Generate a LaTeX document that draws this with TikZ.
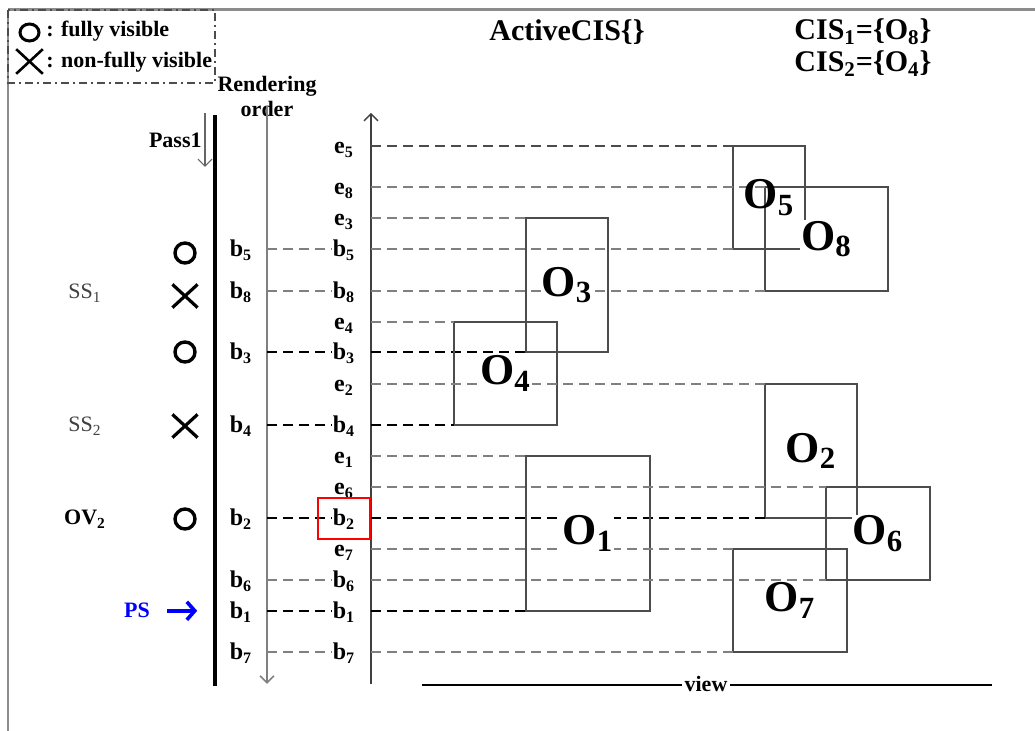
\documentclass[tikz,border=0pt]{standalone}
\usepackage{fontspec}
\setmainfont{Liberation Serif}
\usetikzlibrary{arrows.meta, calc, shapes.misc, shapes.geometric}
\newcommand{\lbsub}[2]{#1\textsubscript{#2}}

\begin{document}
\begin{tikzpicture}[x=0.5pt, y=-0.5pt, font=\fontsize{12}{14}\selectfont\bfseries,
    lbl/.style={inner sep=0pt, anchor=base},
    small/.style={inner sep=0pt, anchor=base, font=\fontsize{11}{13}\selectfont\bfseries},
    big/.style={inner sep=0pt, anchor=base, font=\fontsize{15}{17}\selectfont\bfseries},
    obj/.style={draw=black!70, line width=0.7pt},
    objlbl/.style={fill=white, inner sep=0.5pt, font=\fontsize{22}{24}\selectfont\bfseries},
    guide/.style={dash pattern=on 5pt off 3pt, line width=0.9pt},
    ovis/.style={circle, draw, line width=1.7pt, minimum size=10pt, inner sep=0pt},
    xvis/.style={cross out, draw, line width=1.6pt, minimum width=11pt, minimum height=10pt, inner sep=0pt},
    barb/.style={-{Straight Barb[length=3.5pt, width=7pt]}}]
  % rendering order of the b/e bounds against the view axis
  \useasboundingbox (0,0) rectangle (1035,731);
  \draw[black!45, line width=1.5pt] (8,10) -- (1035,10);
  \draw[black!45, line width=1pt] (8,10) -- (8,731);

  % legend
  \draw[black!70, line width=0.6pt, dash pattern=on 4pt off 2pt on 1pt off 2pt] (8,10) rectangle (215,83);
  \node[ellipse, draw, line width=1.5pt, minimum width=9.5pt, minimum height=8.5pt, inner sep=0pt] (lg-o) at (29.5,32.5) {};
  \node[xvis, line width=1.3pt, minimum width=12pt, minimum height=11pt] (lg-x) at (29.5,61.5) {};
  \node[small, anchor=base west] (lg-full) at (46,37) {: fully visible};
  \node[small, anchor=base west] (lg-part) at (46,68) {: non-fully visible};

  \node[small] (rend) at (267,92) {Rendering};
  \node[small] (ord) at (267,117) {order};
  \node[small, anchor=base east] (pass) at (202,148) {Pass1};
  \coordinate (p1-top) at (205,113);
  \coordinate (p1-bot) at (205,167);
  \draw[black!60, line width=0.6pt, barb] (p1-top) -- (p1-bot);

  \coordinate (pass-top) at (215,115);
  \coordinate (pass-bot) at (215,686);
  \draw[line width=2pt] (pass-top) -- (pass-bot);
  \coordinate (ro-top) at (267,106);
  \coordinate (ro-bot) at (267,684);
  \draw[black!50, line width=0.8pt, barb] (ro-top) -- (ro-bot);
  \coordinate (ax-bot) at (371,684);
  \coordinate (ax-top) at (371,113);
  \draw[black!75, line width=0.7pt, barb] (ax-bot) -- (ax-top);

  \node[big] (active) at (567,41) {ActiveCIS\{\}};
  \node[big] (cis1) at (863,40) {\lbsub{CIS}{1}=\{\lbsub{O}{8}\}};
  \node[big] (cis2) at (863,72) {\lbsub{CIS}{2}=\{\lbsub{O}{4}\}};

  \foreach \l/\s/\y in {e/5/146, e/8/187, e/3/218, b/5/249, b/8/291, e/4/322, b/3/352, e/2/384,
      b/4/425, e/1/456, e/6/487, b/2/518, e/7/549, b/6/580, b/1/611, b/7/652}{
    \coordinate (ax-\l\s) at (371,\y);
    \node[lbl] (t-\l\s) at (344,\y+8) {\lbsub{\l}{\s}};
  }
  \foreach \s/\y/\c in {5/249/black!50, 8/291/black!50, 3/352/black, 4/425/black,
      2/518/black, 6/580/black!50, 1/611/black, 7/652/black!50}{
    \coordinate (ro-b\s) at (267,\y);
    \node[lbl] (r-b\s) at (241,\y+8) {\lbsub{b}{\s}};
    \draw[guide, \c] (ro-b\s) -- (t-b\s.west |- ro-b\s);
  }

  % objects
  \foreach \i/\xa/\ya/\xb/\yb/\ce/\cb in {5/733/146/805/249/black!70/black!50, 8/765/187/888/291/black!50/black!50,
      3/526/218/608/352/black!50/black, 4/454/322/557/425/black!50/black, 2/765/384/857/518/black!50/black,
      1/526/456/650/611/black!50/black, 6/826/487/930/580/black!50/black!50, 7/733/549/847/652/black!50/black!50}{
    \coordinate (o\i-nw) at (\xa,\ya);
    \coordinate (o\i-se) at (\xb,\yb);
    \draw[obj] (o\i-nw) rectangle (o\i-se);
    \draw[guide, \ce] (ax-e\i) -- (ax-e\i -| o\i-nw);
    \draw[guide, \cb] (ax-b\i) -- (ax-b\i -| o\i-nw);
  }
  \foreach \i/\f in {5/none,8/white,3/white,4/white,2/white,1/white,6/white,7/white}
    \node[objlbl, fill=\f] (o\i) at ($(o\i-nw)!0.5!(o\i-se)$) {\lbsub{O}{\i}};

  \draw[red, line width=0.8pt] (318,498) rectangle (370,539);

  % visibility marks
  \node[ovis] (s-b5) at (185,253) {};
  \node[xvis] (s-b8) at (185,296) {};
  \node[ovis] (s-b3) at (185,352) {};
  \node[xvis] (s-b4) at (185,426) {};
  \node[ovis] (s-b2) at (185,519) {};
  \node[lbl, font=\fontsize{11}{13}\selectfont\mdseries, black!75] (ss1) at (85,299) {\lbsub{SS}{1}};
  \node[lbl, font=\fontsize{11}{13}\selectfont\mdseries, black!75] (ss2) at (85,432) {\lbsub{SS}{2}};
  \node[small] (ov2) at (85,525) {\lbsub{OV}{2}};
  \node[small, blue] (ps) at (137,618) {PS};
  \draw[blue, line width=1.8pt, -{Straight Barb[length=4pt, width=9pt]}] ([xshift=8.5pt]ps.east) -- ++(30,0);

  \node[small, inner sep=1pt] (view) at (706,692) {view};
  \coordinate (vw-l) at (422,685);
  \coordinate (vw-r) at (992,685);
  \draw[line width=0.6pt] (vw-l) -- (vw-l -| view.west) (view.east |- vw-r) -- (vw-r);
\end{tikzpicture}
\end{document}
